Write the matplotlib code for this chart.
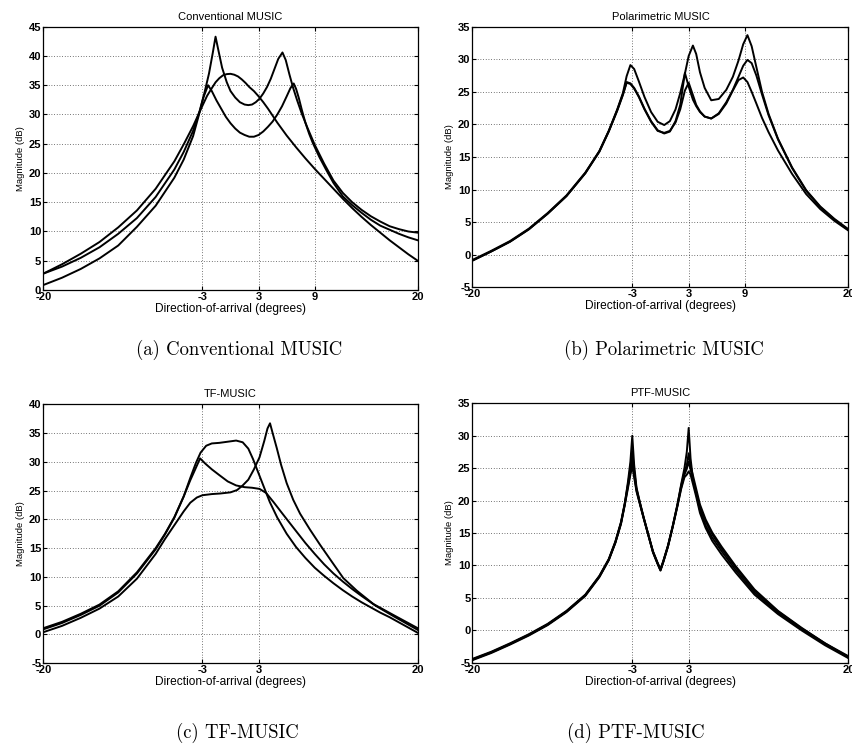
import matplotlib
matplotlib.use("Agg")
import matplotlib.pyplot as plt

# ---- (a) Conventional MUSIC ----
conv_sharp_x = [-20, -18, -16, -14, -12, -10, -8, -6, -5, -4, -3.3, -2.8, -2.3, -1.9, -1.6, -1.3,
                -0.9, -0.4, 0.0, 0.5, 1.0, 1.5, 1.9, 2.3, 2.7, 3.1, 3.5, 3.9, 4.3, 4.7, 5.1, 5.55,
                5.9, 6.3, 6.7, 7.1, 7.6, 8.2, 9.0, 10, 11, 12, 13, 14, 15, 16, 17, 18, 19, 20]
conv_sharp_y = [2.8, 4.0, 5.5, 7.3, 9.6, 12.3, 15.9, 20.6, 23.6, 27.2, 30.6, 33.6, 37.0, 40.5, 43.3, 41.0,
                38.0, 35.5, 34.0, 32.9, 32.1, 31.7, 31.6, 31.7, 32.1, 32.7, 33.6, 34.7, 36.1, 37.8, 39.5, 40.6,
                39.3, 36.8, 34.5, 32.5, 30.2, 27.8, 24.8, 21.6, 18.7, 16.6, 15.0, 13.7, 12.6, 11.7, 10.9, 10.4,
                10.0, 9.8]

conv_double_x = [-20, -18, -16, -14, -12, -10, -8, -6, -5, -4, -3.4, -2.9, -2.4, -2.0, -1.5, -1.0,
                 -0.5, 0.0, 0.5, 1.0, 1.5, 2.0, 2.5, 3.0, 3.5, 4.0, 4.5, 5.0, 5.5, 6.0, 6.4, 6.75,
                 7.0, 7.3, 7.6, 8.0, 8.4, 8.8, 9.5, 10.2, 11, 12, 13, 14, 15, 16, 17, 18, 19, 20]
conv_double_y = [0.85, 2.1, 3.6, 5.4, 7.6, 10.8, 14.4, 19.2, 22.3, 26.3, 29.8, 32.9, 35.0, 34.0, 32.4, 31.0,
                 29.6, 28.5, 27.6, 26.9, 26.5, 26.2, 26.2, 26.5, 27.1, 27.9, 28.8, 30.0, 31.4, 33.1, 34.5, 35.3,
                 34.4, 32.8, 30.9, 28.6, 26.7, 25.1, 22.7, 20.6, 18.3, 16.0, 14.5, 13.2, 12.0, 11.0, 10.3, 9.6,
                 9.0, 8.5]

conv_broad_x = [-20, -18, -16, -14, -12, -10, -8, -6, -5, -4, -3, -2.5, -2, -1.6, -1.2, -0.8,
                -0.4, 0.0, 0.4, 0.8, 1.2, 1.6, 2.0, 2.5, 3.0, 3.5, 4.0, 4.5, 5.0, 5.5, 6.0, 7.0,
                8.0, 9.0, 10, 11, 12, 13, 14, 15, 16, 17, 18, 19, 20]
conv_broad_y = [2.8, 4.4, 6.2, 8.2, 10.7, 13.6, 17.3, 22.0, 24.9, 28.0, 31.5, 33.2, 34.5, 35.5, 36.2, 36.7,
                36.9, 36.95, 36.8, 36.5, 36.0, 35.4, 34.7, 34.0, 33.1, 32.1, 31.0, 29.8, 28.6, 27.5, 26.4, 24.4,
                22.5, 20.7, 19.0, 17.3, 15.6, 14.0, 12.5, 11.1, 9.8, 8.5, 7.3, 6.1, 5.0]

# ---- (b) Polarimetric MUSIC ----
pol_x = [-20, -18, -16, -14, -12, -10, -8, -6.5, -5.5, -4.6, -4.0, -3.6, -3.2, -2.8, -2.3, -1.7,
         -1.0, -0.3, 0.4, 1.0, 1.6, 2.1, 2.6, 3.0, 3.45, 3.8, 4.2, 4.7, 5.4, 6.2, 7.0, 7.7,
         8.3, 8.8, 9.25, 9.7, 10.2, 10.8, 11.5, 12.5, 14, 15.5, 17, 18.5, 20]
pol_y1 = [-0.9, 0.5, 2.0, 3.9, 6.3, 9.0, 12.5, 15.9, 19.0, 22.3, 24.8, 27.4, 29.1, 28.5, 26.6, 24.2,
          21.9, 20.4, 19.9, 20.5, 22.3, 24.8, 27.8, 30.5, 32.1, 30.8, 28.0, 25.6, 23.7, 23.9, 25.3, 27.3,
          29.8, 32.3, 33.7, 32.0, 28.8, 25.0, 21.6, 17.8, 13.4, 9.9, 7.4, 5.5, 3.9]
pol_y2 = [-0.8, 0.6, 2.1, 4.0, 6.4, 9.1, 12.6, 15.9, 19.0, 22.2, 24.6, 26.5, 26.3, 25.6, 24.3, 22.4,
          20.5, 19.1, 18.6, 18.9, 20.5, 23.0, 27.9, 25.8, 23.8, 22.8, 21.9, 21.2, 20.9, 21.6, 23.2, 25.2,
          26.8, 27.2, 26.5, 25.0, 23.2, 21.0, 18.8, 16.0, 12.4, 9.3, 7.0, 5.2, 3.7]
pol_y3 = [-0.9, 0.5, 2.0, 3.9, 6.3, 9.0, 12.5, 15.8, 18.9, 22.1, 24.5, 26.4, 26.2, 25.5, 24.2, 22.3,
          20.4, 19.0, 18.7, 19.0, 20.3, 22.3, 25.2, 26.4, 24.5, 23.0, 22.0, 21.2, 20.9, 21.7, 23.4, 25.3,
          27.3, 29.0, 29.9, 29.4, 27.5, 24.6, 21.4, 17.7, 13.3, 9.8, 7.3, 5.4, 3.8]

# ---- (c) TF-MUSIC ----
tf_flat_x = [-20, -18, -16, -14, -12, -10, -8, -7, -6, -5, -4.3, -3.7, -3.2, -2.6, -2.0, -1.2,
             -0.3, 0.6, 1.3, 1.9, 2.4, 2.9, 3.5, 4.2, 5.0, 6.0, 7.0, 8.0, 9.0, 10, 11, 12,
             13, 14, 15, 16, 17, 18, 19, 20]
tf_flat_y = [0.9, 2.0, 3.4, 5.0, 7.3, 10.6, 14.8, 17.4, 20.3, 24.0, 27.2, 29.8, 31.6, 32.8, 33.2, 33.3,
             33.5, 33.7, 33.4, 32.3, 30.5, 28.4, 25.9, 23.0, 20.3, 17.5, 15.2, 13.3, 11.6, 10.2, 8.9, 7.7,
             6.6, 5.6, 4.7, 3.8, 3.0, 2.1, 1.2, 0.3]

tf_left_x = [-20, -18, -16, -14, -12, -10, -8, -7, -6, -5, -4.3, -3.8, -3.25, -2.7, -2.0, -1.2,
             -0.3, 0.6, 1.5, 2.3, 3.1, 3.8, 4.6, 5.5, 6.7, 8.0, 9.0, 10, 11, 12, 13, 14, 15.5,
             17.5, 20]
tf_left_y = [1.1, 2.2, 3.6, 5.2, 7.5, 10.8, 15.0, 17.5, 20.4, 24.0, 26.8, 28.6, 30.6, 29.7, 28.7, 27.7,
             26.6, 25.9, 25.6, 25.5, 25.3, 24.6, 23.0, 21.1, 18.6, 15.9, 14.0, 12.2, 10.6, 9.2, 7.9, 6.7, 5.0,
             3.1, 0.8]

tf_right_x = [-20, -18, -16, -14, -12, -10, -8, -7, -6, -5, -4.3, -3.6, -3.0, -2.0, -1.1, 0.0,
              0.7, 1.3, 1.9, 2.5, 3.1, 3.6, 3.95, 4.22, 4.5, 4.94, 5.4, 6.0, 6.7, 7.43, 8.5, 9.56,
              10.8, 12.05, 13.5, 15.26, 17.5, 20]
tf_right_y = [0.4, 1.5, 2.9, 4.5, 6.6, 9.7, 14.0, 16.6, 19.0, 21.4, 22.9, 23.8, 24.2, 24.4, 24.5, 24.7,
              25.1, 25.9, 26.9, 28.7, 30.8, 33.6, 35.8, 36.7, 35.0, 32.4, 29.5, 26.3, 23.4, 21.0, 18.2, 15.6,
              12.7, 9.8, 7.6, 5.3, 3.3, 1.1]

# ---- (d) PTF-MUSIC ----
ptf_x = [-20, -18, -16, -14, -12, -10, -8, -6.5, -5.5, -4.8, -4.2, -3.8, -3.45, -3.2, -3.0, -2.8,
         -2.55, -2.2, -1.8, -1.3, -0.8, -0.3, 0.0, 0.3, 0.8, 1.3, 1.8, 2.2, 2.55, 2.8, 3.0, 3.2,
         3.45, 3.8, 4.2, 4.8, 5.5, 6.5, 8, 10, 12.5, 15, 17.5, 20]
ptf_y1 = [-4.5, -3.4, -2.1, -0.7, 0.9, 2.9, 5.4, 8.3, 10.9, 13.6, 16.6, 19.5, 23.0, 26.0, 30.0, 25.5,
          22.0, 19.8, 17.5, 14.8, 12.1, 10.3, 9.3, 10.6, 13.0, 16.0, 19.3, 22.5, 25.0, 27.5, 31.2, 26.5,
          23.4, 21.0, 18.5, 16.2, 14.3, 12.2, 9.3, 5.8, 2.7, 0.2, -2.1, -4.1]
ptf_y2 = [-4.4, -3.3, -2.0, -0.6, 1.0, 3.0, 5.5, 8.4, 11.0, 13.7, 16.7, 19.6, 22.6, 25.0, 27.6, 24.6,
          21.8, 19.7, 17.4, 14.8, 12.2, 10.4, 9.4, 10.7, 13.1, 16.1, 19.4, 22.3, 24.4, 25.5, 27.3, 25.3,
          23.9, 21.8, 19.4, 17.1, 15.1, 12.9, 9.9, 6.3, 3.0, 0.4, -2.0, -4.0]
ptf_y3 = [-4.5, -3.4, -2.1, -0.7, 0.9, 2.9, 5.4, 8.3, 10.9, 13.5, 16.5, 19.4, 22.3, 24.4, 26.3, 24.0,
          21.6, 19.6, 17.4, 14.7, 12.1, 10.3, 9.3, 10.6, 13.0, 16.0, 19.2, 22.0, 24.0, 24.9, 26.0, 24.8,
          23.2, 21.3, 19.0, 16.8, 14.8, 12.6, 9.7, 6.1, 2.9, 0.3, -2.0, -4.2]
ptf_y4 = [-4.6, -3.5, -2.2, -0.8, 0.8, 2.8, 5.3, 8.2, 10.8, 13.5, 16.4, 19.3, 22.0, 24.0, 25.3, 23.6,
          21.4, 19.5, 17.3, 14.7, 12.0, 10.2, 9.2, 10.5, 12.9, 15.9, 19.1, 21.8, 23.6, 24.0, 24.5, 24.0,
          22.6, 20.6, 18.1, 15.8, 13.8, 11.7, 8.9, 5.5, 2.5, 0.0, -2.3, -4.3]

titles = ["Conventional MUSIC", "Polarimetric MUSIC", "TF-MUSIC", "PTF-MUSIC"]
captions = ["(a) Conventional MUSIC", "(b) Polarimetric MUSIC", "(c) TF-MUSIC", "(d) PTF-MUSIC"]
xticks_top = [-20, -3, 3, 9, 20]
xticks_bottom = [-20, -3, 3, 20]


def draw_panel(ax, curves, title, xticks, ylim):
    for xs, ys in curves:
        ax.plot(xs, ys, color="black", linewidth=1.4, solid_joinstyle="round")
    ax.set_xlim(-20, 20)
    ax.set_ylim(*ylim)
    ax.set_xticks(xticks)
    ax.set_yticks(range(ylim[0], ylim[1] + 1, 5))
    ax.grid(True, color="0.15", linestyle=(0, (1, 2.5)), linewidth=0.55)
    ax.tick_params(direction="in", length=3, top=True, right=True, labelsize=8, pad=1.5)
    for lab in ax.get_xticklabels() + ax.get_yticklabels():
        lab.set_fontweight("bold")
    for sp in ax.spines.values():
        sp.set_linewidth(0.9)
    ax.set_title(title, fontsize=8, pad=5)
    ax.set_xlabel("Direction-of-arrival (degrees)", fontsize=8.6, labelpad=0.5)
    ax.set_ylabel("Magnitude (dB)", fontsize=6.8, labelpad=3)


plt.rcParams["font.family"] = ["Liberation Sans", "DejaVu Sans"]
plt.rcParams["axes.unicode_minus"] = False

fig = plt.figure(figsize=(8.53, 7.55), dpi=100)

ax_a = fig.add_axes([0.0508, 0.6159, 0.4389, 0.3487])
ax_b = fig.add_axes([0.5539, 0.6195, 0.4408, 0.3452])
ax_c = fig.add_axes([0.0508, 0.1215, 0.4389, 0.3430])
ax_d = fig.add_axes([0.5539, 0.1222, 0.4408, 0.3436])

draw_panel(ax_a, [(conv_sharp_x, conv_sharp_y), (conv_double_x, conv_double_y),
                  (conv_broad_x, conv_broad_y)], titles[0], xticks_top, (0, 45))
draw_panel(ax_b, [(pol_x, pol_y1), (pol_x, pol_y2), (pol_x, pol_y3)],
           titles[1], xticks_top, (-5, 35))
draw_panel(ax_c, [(tf_flat_x, tf_flat_y), (tf_left_x, tf_left_y), (tf_right_x, tf_right_y)],
           titles[2], xticks_bottom, (-5, 40))
draw_panel(ax_d, [(ptf_x, ptf_y1), (ptf_x, ptf_y2), (ptf_x, ptf_y3), (ptf_x, ptf_y4)],
           titles[3], xticks_bottom, (-5, 35))

# sub-figure captions in a Computer Modern face
cap_pos = [(239, 350), (664, 350), (237, 733), (636, 733)]
for cap, (px, py) in zip(captions, cap_pos):
    fig.text(px / 853, 1 - py / 755, cap, ha="center", va="center",
             fontsize=13.5, family=["cmr10", "DejaVu Serif"])

fig.savefig("out.png", dpi=100)
